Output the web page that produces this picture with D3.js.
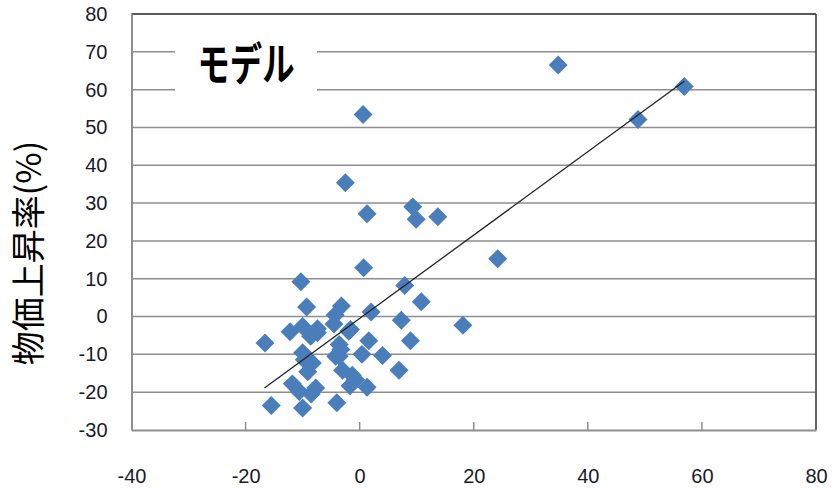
<!DOCTYPE html>
<html><head><meta charset="utf-8">
<script src="https://cdn.jsdelivr.net/npm/d3@7"></script>
<style>body{margin:0;background:#fff;}svg{display:block;}</style>
</head><body>
<svg id="c" width="833" height="490"></svg>
<script>
const xTicks = [-40, -20, 0, 20, 40, 60, 80];
const yTicks = [-30, -20, -10, 0, 10, 20, 30, 40, 50, 60, 70, 80];
const xValues = [0.6, -2.5, 1.3, 9.3, 9.9, 13.7, 34.8, 48.8, 56.9, 24.2, 7.9, 10.8, 7.3, 18.1, 8.9, 6.9,
  0.7, -10.3, -9.3, -3.2, -4.3, 2.0,
  -16.6, -12.2, -10.0, -7.4, -8.6, -4.5, -1.9, 1.6, 0.4, 4.0,
  -10.0, -8.3, -9.1, -3.6, -3.3, -4.2, -3.0, -1.3, -0.7, -1.7, 1.3,
  -11.8, -7.7, -10.6, -8.5, -15.5, -10.0, -4.0, -3.6, -9.7, -7.4, -1.6];
const yValues = [53.4, 35.4, 27.2, 29.0, 25.7, 26.4, 66.5, 52.1, 60.8, 15.3, 8.2, 3.9, -1.0, -2.3, -6.4, -14.2,
  12.9, 9.2, 2.5, 2.8, 0.4, 1.2,
  -7.0, -4.0, -2.6, -3.2, -5.2, -2.0, -3.9, -6.4, -10.0, -10.3,
  -9.6, -12.3, -14.6, -10.5, -8.7, -10.5, -14.2, -15.5, -16.7, -18.3, -18.7,
  -17.8, -18.9, -19.8, -20.5, -23.5, -24.2, -22.8, -7.4, -11.4, -4.3, -3.4];
const trendX = [-16.7, 56.9];
const trendY = [-18.9, 62.2];
const yTitle = "物価上昇率(%)";
const boxLabel = "モデル";

const svg = d3.select("#c");
const L = 131.5, R = 816, T = 14, B = 430;
const x = d3.scaleLinear().domain([-40, 80]).range([L, R]);
const y = d3.scaleLinear().domain([-30, 80]).range([B, T]);
const fmt = d => String(d);

// gridlines
svg.append("g").selectAll("line").data(yTicks.filter(d => d > -30 && d < 80)).join("line")
  .attr("x1", L).attr("x2", R).attr("y1", d => y(d)).attr("y2", d => y(d))
  .attr("stroke", "#8e8e8e").attr("stroke-width", 1.5);

// plot border top/right dark
svg.append("line").attr("x1", L).attr("x2", R).attr("y1", T).attr("y2", T).attr("stroke", "#222").attr("stroke-width", 1.5);
svg.append("line").attr("x1", R).attr("x2", R).attr("y1", T).attr("y2", B).attr("stroke", "#333").attr("stroke-width", 1.5);

// y axis
const yAxis = d3.axisLeft(y).tickValues(yTicks).tickFormat(fmt).tickSize(0).tickPadding(24);
const gy = svg.append("g").attr("transform", `translate(${L},0)`).call(yAxis);
gy.select(".domain").attr("stroke", "#8e8e8e").attr("stroke-width", 2);
gy.selectAll("text").attr("font-family", "Liberation Sans, Arial, sans-serif").attr("font-size", 20).attr("fill", "#1a1a2a");

// x axis
const xAxis = d3.axisBottom(x).tickValues(xTicks).tickFormat(fmt).tickSize(0).tickPadding(39);
const gx = svg.append("g").attr("transform", `translate(0,${B})`).call(xAxis);
gx.select(".domain").attr("stroke", "#8e8e8e").attr("stroke-width", 2);
gx.selectAll("text").attr("font-family", "Liberation Sans, Arial, sans-serif").attr("font-size", 20).attr("fill", "#1a1a2a");
svg.append("g").selectAll("line").data(xTicks.filter(d => d > -40 && d < 80)).join("line")
  .attr("x1", d => x(d)).attr("x2", d => x(d)).attr("y1", B).attr("y2", B - 8)
  .attr("stroke", "#8e8e8e").attr("stroke-width", 1.5);

// label box
svg.append("rect").attr("x", 175).attr("y", 30).attr("width", 142).attr("height", 70).attr("fill", "#fff");
svg.append("text").attr("transform", "translate(246,81) scale(0.9,1.25)").attr("text-anchor", "middle")
  .attr("font-family", "Noto Sans CJK JP, sans-serif").attr("font-weight", "bold").attr("font-size", 36)
  .attr("fill", "#000").text(boxLabel);

// points
const pts = xValues.map((v, i) => [v, yValues[i]]);
const diamond = d3.symbol().type(d3.symbolSquare).size(180);
svg.append("g").selectAll("path").data(pts).join("path")
  .attr("d", diamond)
  .attr("transform", d => `translate(${x(d[0])},${y(d[1])}) rotate(45)`)
  .attr("fill", "#4a7ebb");

// trend line
svg.append("line").attr("x1", x(trendX[0])).attr("y1", y(trendY[0])).attr("x2", x(trendX[1])).attr("y2", y(trendY[1]))
  .attr("stroke", "#222").attr("stroke-width", 1.3);

// y title
svg.append("text").attr("transform", "translate(41,253) rotate(-90)").attr("text-anchor", "middle")
  .attr("font-family", "Noto Sans CJK JP, sans-serif").attr("font-size", 34).attr("fill", "#000").text(yTitle);
</script>
</body></html>
